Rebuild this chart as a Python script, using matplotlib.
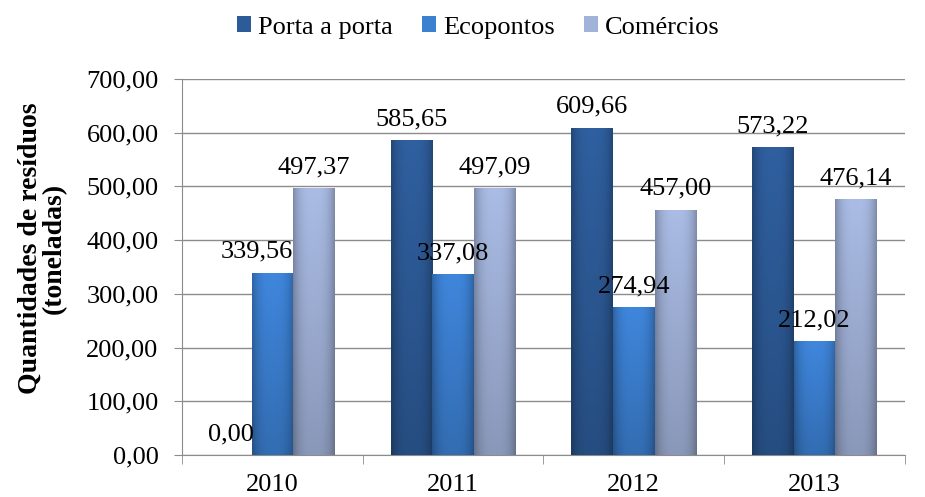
import numpy as np
import matplotlib.pyplot as plt
from matplotlib.patches import Patch
from matplotlib.colors import to_rgb

plt.rcParams['font.family'] = ['Liberation Serif', 'DejaVu Serif']

years = ['2010', '2011', '2012', '2013']
series = ['Porta a porta', 'Ecopontos', 'Comércios']
porta_a_porta = [0.00, 585.65, 609.66, 573.22]
ecopontos = [339.56, 337.08, 274.94, 212.02]
comercios = [497.37, 497.09, 457.00, 476.14]
yticks = [0, 100, 200, 300, 400, 500, 600, 700]

values = [porta_a_porta, ecopontos, comercios]
colors = ['#2D5B98', '#3C80D2', '#A2B3DA']
FS = 19


def fmt(v):
    return f'{v:.2f}'.replace('.', ',')


def shade(ax, bar, base):
    # fake the Excel bevel: light center, darker sides and bottom
    x0, y0 = bar.get_x(), bar.get_y()
    w, h = bar.get_width(), bar.get_height()
    if h <= 0:
        return
    nx, ny = 40, 60
    xs = np.linspace(-1, 1, nx)
    ys = np.linspace(0, 1, ny)[:, None]
    side = 1 - 0.25 * np.abs(xs) ** 3
    vert = 0.85 + 0.2 * ys
    f = side[None, :] * vert
    rgb = np.array(to_rgb(base))
    img = np.clip(rgb[None, None, :] * f[:, :, None], 0, 1)
    im = ax.imshow(img, extent=(x0, x0 + w, y0, y0 + h), origin='lower',
                   aspect='auto', zorder=3, interpolation='bilinear')
    im.set_clip_path(bar)


fig = plt.figure(figsize=(9.25, 4.97), dpi=100)
ax = fig.add_axes([0.197, 0.0845, 0.781, 0.7565])

x = np.arange(len(years))
width = 0.23
for i, (vals, c) in enumerate(zip(values, colors)):
    pos = x + (i - 1) * width
    bars = ax.bar(pos, vals, width, color=c, edgecolor='none', zorder=2,
                  label=series[i])
    for b, v in zip(bars, vals):
        shade(ax, b, c)
        dx = -11 if (i == 1 and v == 339.56) else 0
        ax.annotate(fmt(v), (b.get_x() + b.get_width() / 2, v),
                    xytext=(dx, 7), textcoords='offset points',
                    ha='center', va='bottom', fontsize=FS, zorder=5)

ax.set_xlim(-0.5, len(years) - 0.5)
ax.set_ylim(0, 700)
ax.set_yticks(yticks)
ax.set_yticklabels([fmt(v) for v in yticks], fontsize=FS)
ax.yaxis.grid(True, color='#8c8c8c', linewidth=1.0, zorder=0)
ax.set_axisbelow(True)

ax.set_xticks(x)
ax.set_xticklabels(years, fontsize=FS)
ax.tick_params(axis='x', length=0, pad=14)
ax.set_xticks(np.arange(len(years) + 1) - 0.5, minor=True)
ax.tick_params(axis='x', which='minor', length=6.5, color='#8c8c8c')
ax.tick_params(axis='y', length=6, color='#8c8c8c', pad=11)

for s in ['top', 'right']:
    ax.spines[s].set_visible(False)
for s in ['left', 'bottom']:
    ax.spines[s].set_color('#8c8c8c')

ax.set_ylabel('Quantidades de resíduos\n(toneladas)', fontsize=20,
              fontweight='bold', linespacing=1.0)
ax.yaxis.set_label_coords(-0.159, 0.55)

handles = [Patch(facecolor=c, edgecolor='none') for c in colors]
fig.legend(handles, series, loc='upper center', bbox_to_anchor=(0.517, 1.015),
           ncol=3, frameon=False, fontsize=FS, handlelength=0.55,
           handleheight=0.55, handletextpad=0.25, columnspacing=1.1)

fig.savefig('out.png', dpi=100)
